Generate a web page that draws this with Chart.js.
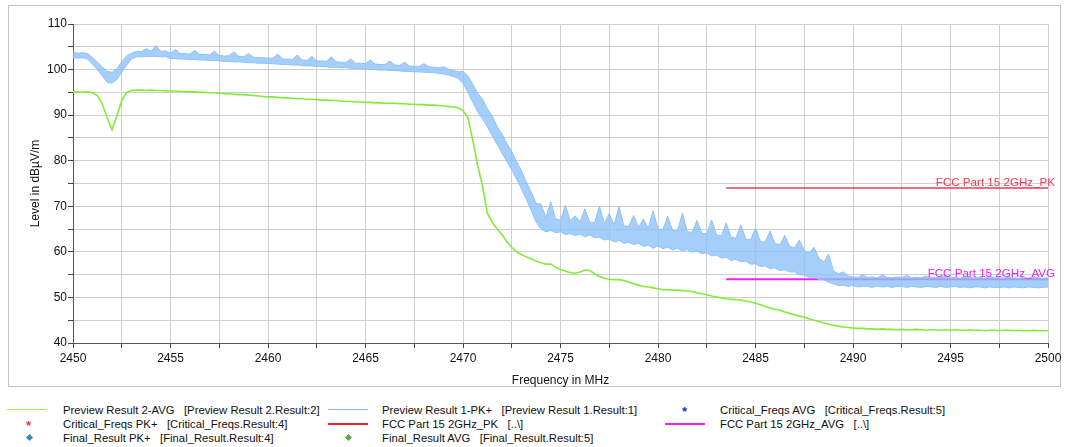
<!DOCTYPE html>
<html>
<head>
<meta charset="utf-8">
<script src="https://cdn.jsdelivr.net/npm/chart.js@4.4.1/dist/chart.umd.min.js"></script>
<style>
  body { margin: 0; background: #fff; font-family: "Liberation Sans", Arial, sans-serif; }
  #wrap { position: relative; width: 1066px; height: 447px; }
  #frame { position: absolute; left: 8px; top: 5px; width: 1051px; height: 380px; border: 1px solid #c4c4c4; }
  #box { position: absolute; left: 0; top: 0; width: 1066px; height: 390px; }
  .lg { position: absolute; font-size: 11.3px; line-height: 13px; color: #111; white-space: pre; }
  .ln { position: absolute; width: 40px; }
  .star { position: absolute; font-size: 13px; line-height: 13px; font-weight: bold; }
  .dia { position: absolute; width: 5px; height: 5px; transform: rotate(45deg); }
</style>
</head>
<body>
<div id="wrap">
  <div id="frame"></div>
  <div id="box"><canvas id="spec"></canvas></div>

  <!-- legend, row 1 -->
  <div class="ln" style="left:7px;top:409px;height:1px;background:#a8e85a"></div>
  <div class="lg" style="left:63px;top:404px">Preview Result 2-AVG   [Preview Result 2.Result:2]</div>
  <div class="ln" style="left:328px;top:409px;height:1px;background:#7ab8f6"></div>
  <div class="lg" style="left:382px;top:404px">Preview Result 1-PK+   [Preview Result 1.Result:1]</div>
  <div class="star" style="left:682px;top:405px;color:#1030e0">*</div>
  <div class="lg" style="left:720px;top:404px">Critical_Freqs AVG   [Critical_Freqs.Result:5]</div>
  <!-- row 2 -->
  <div class="star" style="left:26px;top:419px;color:#f03040">*</div>
  <div class="lg" style="left:63px;top:418px">Critical_Freqs PK+   [Critical_Freqs.Result:4]</div>
  <div class="ln" style="left:328px;top:423px;height:2px;background:#ee2030"></div>
  <div class="lg" style="left:382px;top:418px">FCC Part 15 2GHz_PK   [..\]</div>
  <div class="ln" style="left:665px;top:423px;height:2px;background:#f020f0"></div>
  <div class="lg" style="left:720px;top:418px">FCC Part 15 2GHz_AVG   [..\]</div>
  <!-- row 3 -->
  <div class="dia" style="left:27px;top:435px;background:#3a86c0"></div>
  <div class="lg" style="left:63px;top:432px">Final_Result PK+   [Final_Result.Result:4]</div>
  <div class="dia" style="left:346px;top:435px;background:#5aa84a"></div>
  <div class="lg" style="left:382px;top:432px">Final_Result AVG   [Final_Result.Result:5]</div>
</div>

<script>
// frequency grid of the traces, 0.25 MHz step (2450 .. 2500)
const freq = [];
for (let i = 0; i <= 200; i++) freq.push(2450 + i * 0.25);

// Preview Result 2-AVG (green), dBuV/m
const avgTrace = [
  95.0, 95.1, 95.0, 95.1, 94.9, 94.3, 92.5, 89.5, 86.8, 89.8,
  93.2, 95.0, 95.4, 95.5, 95.5, 95.4, 95.5, 95.4, 95.4, 95.3,
  95.3, 95.3, 95.2, 95.2, 95.1, 95.1, 95.0, 95.0, 94.9, 94.9,
  94.8, 94.7, 94.7, 94.6, 94.5, 94.5, 94.4, 94.3, 94.2, 94.1,
  94.0, 94.0, 93.9, 93.8, 93.8, 93.7, 93.6, 93.6, 93.5, 93.5,
  93.4, 93.3, 93.3, 93.2, 93.2, 93.1, 93.0, 93.0, 92.9, 92.9,
  92.8, 92.8, 92.7, 92.7, 92.6, 92.6, 92.6, 92.5, 92.5, 92.4,
  92.4, 92.3, 92.3, 92.2, 92.2, 92.1, 92.0, 91.9, 91.8, 91.6,
  91.0, 89.5, 84.5, 79.0, 74.5, 68.5, 66.5, 65.0, 63.8, 62.2,
  61.0, 60.0, 59.4, 58.9, 58.5, 58.0, 57.6, 57.3, 57.3, 56.6,
  56.1, 55.8, 55.4, 55.3, 55.6, 56.0, 55.9, 55.2, 54.6, 54.2,
  54.0, 53.9, 53.9, 53.7, 53.4, 53.0, 52.7, 52.4, 52.3, 52.1,
  51.9, 51.7, 51.7, 51.6, 51.6, 51.5, 51.4, 51.3, 51.0, 50.8,
  50.6, 50.3, 50.1, 49.9, 49.7, 49.6, 49.5, 49.4, 49.2, 49.0,
  48.7, 48.4, 48.0, 47.7, 47.4, 47.2, 46.8, 46.5, 46.2, 45.9,
  45.7, 45.3, 45.0, 44.7, 44.4, 44.1, 43.9, 43.7, 43.5, 43.4,
  43.3, 43.2, 43.2, 43.1, 43.1, 43.0, 43.1, 43.0, 43.0, 42.9,
  43.0, 42.9, 42.9, 43.0, 42.9, 42.8, 42.9, 42.9, 42.8, 42.9,
  42.8, 42.9, 42.8, 42.8, 42.9, 42.8, 42.8, 42.7, 42.8, 42.8,
  42.7, 42.8, 42.8, 42.7, 42.8, 42.7, 42.7, 42.8, 42.7, 42.7,
  42.7
];

// Preview Result 1-PK+ (blue) is a noisy band: lower and upper edge
const pkLow = [
  102.6, 102.5, 102.6, 102.3, 101.2, 100.0, 98.6, 97.2, 97.0, 97.8,
  99.4, 101.0, 102.3, 102.8, 102.8, 102.9, 102.9, 102.9, 102.8, 102.9,
  102.4, 102.4, 102.3, 102.3, 102.2, 102.2, 102.1, 102.1, 102.0, 102.0,
  101.9, 101.8, 101.8, 101.7, 101.7, 101.6, 101.5, 101.5, 101.4, 101.4,
  101.3, 101.3, 101.2, 101.1, 101.1, 101.0, 101.0, 100.9, 100.8, 100.8,
  100.7, 100.7, 100.6, 100.5, 100.5, 100.4, 100.4, 100.3, 100.2, 100.2,
  100.1, 100.1, 100.0, 99.9, 99.9, 99.8, 99.8, 99.7, 99.6, 99.6,
  99.5, 99.5, 99.4, 99.4, 99.3, 99.2, 99.0, 98.8, 98.5, 98.1,
  97.0, 95.0, 92.8, 90.7, 89.2, 87.4, 85.5, 83.6, 81.7, 79.8,
  78.0, 76.0, 73.8, 71.5, 69.0, 66.6, 65.0, 64.4, 64.7, 64.2,
  64.4, 63.8, 64.0, 63.6, 63.9, 63.3, 63.7, 63.1, 63.2, 62.6,
  62.8, 62.2, 62.5, 61.9, 62.1, 61.6, 61.9, 61.2, 61.5, 60.8,
  61.3, 60.7, 61.0, 60.4, 60.8, 60.2, 60.5, 59.9, 60.2, 59.6,
  59.8, 59.1, 59.3, 58.6, 58.8, 58.1, 58.4, 57.8, 58.0, 57.3,
  57.4, 56.8, 56.9, 56.3, 56.5, 55.9, 56.1, 55.6, 55.6, 55.0,
  54.9, 54.4, 54.5, 53.9, 53.9, 53.3, 53.0, 52.6, 52.7, 52.4,
  52.6, 52.3, 52.5, 52.4, 52.2, 52.5, 52.3, 52.4, 52.2, 52.4,
  52.4, 52.2, 52.4, 52.3, 52.2, 52.4, 52.3, 52.2, 52.4, 52.2,
  52.3, 52.4, 52.2, 52.3, 52.1, 52.3, 52.3, 52.1, 52.3, 52.2,
  52.2, 52.3, 52.1, 52.3, 52.2, 52.1, 52.3, 52.2, 52.1, 52.2,
  52.3
];
const pkHigh = [
  103.8, 103.6, 103.7, 103.5, 102.6, 101.6, 100.6, 99.6, 99.4, 100.2,
  101.7, 103.0, 103.6, 104.0, 103.9, 104.6, 104.0, 105.3, 104.0, 104.1,
  103.6, 104.4, 103.5, 103.5, 103.4, 104.2, 103.3, 103.3, 103.2, 104.0,
  103.1, 103.0, 103.0, 103.9, 102.9, 102.8, 103.5, 102.7, 102.6, 102.6,
  102.5, 102.5, 103.4, 102.3, 102.3, 102.2, 103.2, 102.1, 102.0, 102.9,
  101.9, 101.9, 101.8, 102.8, 101.7, 101.6, 101.6, 102.3, 101.4, 101.4,
  101.3, 102.1, 101.2, 101.1, 101.1, 101.9, 101.0, 100.9, 101.6, 100.8,
  100.7, 100.7, 101.3, 100.6, 100.5, 100.4, 100.6, 100.1, 99.8, 99.5,
  99.6, 98.6, 96.8, 94.8, 93.5, 91.4, 89.8, 87.5, 85.9, 83.8,
  82.0, 79.8, 77.8, 75.3, 73.1, 70.6, 70.5, 67.5, 71.0, 67.2,
  67.0, 70.2, 66.8, 67.9, 66.6, 69.4, 66.5, 66.4, 70.0, 66.2,
  68.4, 65.9, 69.9, 65.7, 65.6, 68.0, 65.4, 67.2, 65.2, 69.0,
  65.0, 64.9, 67.8, 64.7, 64.6, 68.5, 64.4, 64.3, 66.9, 64.1,
  63.9, 67.0, 63.7, 63.5, 66.3, 63.2, 63.0, 65.9, 62.8, 62.6,
  65.3, 62.3, 62.1, 64.6, 61.8, 61.6, 63.6, 61.2, 60.9, 62.6,
  60.3, 59.8, 61.0, 58.6, 57.8, 59.5, 55.8, 55.2, 55.6, 54.7,
  54.5, 54.4, 55.0, 54.4, 54.5, 54.3, 54.9, 54.4, 54.3, 54.5,
  54.4, 54.8, 54.3, 54.4, 54.3, 54.7, 54.4, 54.3, 54.4, 54.8,
  54.3, 54.4, 54.2, 54.6, 54.3, 54.3, 54.4, 54.2, 54.7, 54.3,
  54.3, 54.2, 54.6, 54.3, 54.2, 54.4, 54.2, 54.6, 54.3, 54.2,
  54.3
];

// FCC Part 15 limits in the restricted band
const limitFreq = [2483.5, 2500];
const limitPK = [74, 74];
const limitAVG = [54, 54];

const xTicks = ['2450', '2455', '2460', '2465', '2470', '2475', '2480', '2485', '2490', '2495', '2500'];
const yTicks = ['40', '50', '60', '70', '80', '90', '100', '110'];

const BLUE = '#8cc2f8';
const GREEN = '#82ec3a';
const RED = '#f23a50';
const MAGENTA = '#f020f0';

const pts = (xs, ys) => xs.map((x, i) => ({ x: x, y: ys[i] }));

// writes the limit names above their lines, at the right end
const limitLabels = {
  id: 'limitLabels',
  afterDatasetsDraw(chart) {
    const { ctx, scales } = chart;
    const xr = scales.x.getPixelForValue(2500) + 7;
    ctx.save();
    ctx.font = '11.6px "Liberation Sans", Arial, sans-serif';
    ctx.textAlign = 'right';
    ctx.textBaseline = 'alphabetic';
    ctx.fillStyle = RED;
    ctx.fillText('FCC Part 15 2GHz_PK', xr, scales.y.getPixelForValue(limitPK[1]) - 2);
    ctx.fillStyle = MAGENTA;
    ctx.fillText('FCC Part 15 2GHz_AVG', xr, scales.y.getPixelForValue(limitAVG[1]) - 2);
    ctx.restore();
  }
};

const tickFont = { family: '"Liberation Sans", Arial, sans-serif', size: 12 };

new Chart(document.getElementById('spec'), {
  type: 'line',
  data: {
    datasets: [
      { label: 'pk low', data: pts(freq, pkLow), borderColor: BLUE, borderWidth: 1, pointRadius: 0, fill: false },
      { label: 'Preview Result 1-PK+', data: pts(freq, pkHigh), borderColor: BLUE, borderWidth: 1, pointRadius: 0,
        fill: '-1', backgroundColor: 'rgba(140,194,248,0.78)' },
      { label: 'Preview Result 2-AVG', data: pts(freq, avgTrace), borderColor: GREEN, borderWidth: 1.6, pointRadius: 0, fill: false },
      { label: 'FCC Part 15 2GHz_PK', data: pts(limitFreq, limitPK), borderColor: RED, borderWidth: 1.5, pointRadius: 0, fill: false },
      { label: 'FCC Part 15 2GHz_AVG', data: pts(limitFreq, limitAVG), borderColor: MAGENTA, borderWidth: 2, pointRadius: 0, fill: false }
    ]
  },
  options: {
    responsive: true,
    maintainAspectRatio: false,
    animation: false,
    layout: { padding: { top: 24, right: 18, left: 0, bottom: 0 } },
    plugins: { legend: { display: false }, tooltip: { enabled: false } },
    scales: {
      x: {
        type: 'linear', min: 2450, max: 2500,
        afterFit: (s) => { s.height = 47; },
        border: { color: '#555' },
        grid: { color: '#cfcfcf', tickColor: '#444', tickLength: 5 },
        ticks: {
          stepSize: 2.5, autoSkip: false, maxRotation: 0, padding: 3, color: '#111', font: tickFont,
          callback: (v) => (v % 5 === 0 ? xTicks[(v - 2450) / 5] : '')
        },
        title: { display: true, text: 'Frequency in MHz', color: '#111', font: tickFont, padding: { top: 2, bottom: 2 } }
      },
      y: {
        min: 40, max: 110,
        afterFit: (s) => { s.width = 73; },
        border: { color: '#555' },
        grid: { color: '#cfcfcf', tickColor: '#444', tickLength: 5 },
        ticks: {
          stepSize: 5, autoSkip: false, padding: 1, color: '#111', font: tickFont,
          callback: (v) => (v % 10 === 0 ? yTicks[(v - 40) / 10] : '')
        },
        title: { display: true, text: 'Level in dBµV/m', color: '#111', font: tickFont, padding: { top: 28, bottom: 0 } }
      }
    }
  },
  plugins: [limitLabels]
});
</script>
</body>
</html>
